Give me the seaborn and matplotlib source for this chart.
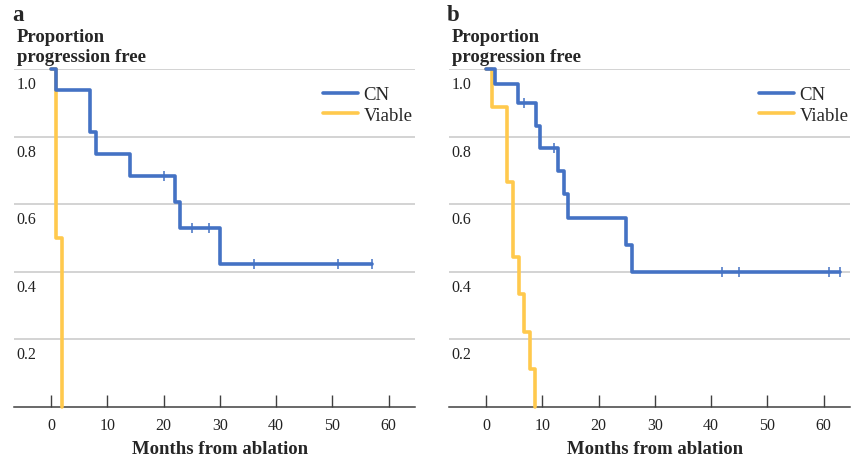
import numpy as np
import pandas as pd
import matplotlib
matplotlib.use("Agg")
import matplotlib.pyplot as plt
import matplotlib.transforms as mtransforms
from matplotlib.lines import Line2D
import seaborn as sns

# ---- data ----
# Panel a
cn_a_time = [0, 0.8, 7, 8, 14, 22, 23, 30, 57]
cn_a_surv = [1.0, 0.938, 0.815, 0.75, 0.683, 0.607, 0.53, 0.424, 0.424]
cn_a_censor = [20, 25, 28, 36, 51, 57]
viable_a_time = [0, 0.85, 2.0]
viable_a_surv = [1.0, 0.5, 0.0]

# Panel b
cn_b_time = [0, 1.5, 5.75, 8.8, 9.6, 12.85, 13.9, 14.6, 24.85, 25.9, 63]
cn_b_surv = [1.0, 0.955, 0.898, 0.832, 0.765, 0.697, 0.63, 0.558, 0.479, 0.398, 0.398]
cn_b_censor = [6.75, 12, 42, 45, 61, 63]
viable_b_time = [0, 1.0, 3.7, 4.8, 5.8, 6.75, 7.75, 8.75]
viable_b_surv = [1.0, 0.889, 0.667, 0.444, 0.333, 0.222, 0.111, 0.0]

panel_letters = ["a", "b"]
group_names = ["CN", "Viable"]
x_ticks = [0, 10, 20, 30, 40, 50, 60]
y_ticks = [0.2, 0.4, 0.6, 0.8, 1.0]
y_title = "Proportion\nprogression free"
x_title = "Months from ablation"

BLUE = "#4472C4"
YELLOW = "#FFC94D"

sns.set_theme(style="white")
plt.rcParams["font.family"] = ["Liberation Serif", "DejaVu Serif"]

W, H = 853, 464
fig = plt.figure(figsize=(W / 100, H / 100), dpi=100)


def step_value(times, surv, t):
    idx = np.searchsorted(np.asarray(times), t, side="right") - 1
    return surv[idx]


def draw_panel(left_px, cn_t, cn_s, cn_c, v_t, v_s, letter, legend_x_px):
    ax = fig.add_axes([left_px / W, 56 / H, 401 / W, 338 / H])
    ax.set_xlim(-6.6, 64.7)
    ax.set_ylim(0, 1.0)

    vdf = pd.DataFrame({"t": v_t, "s": v_s})
    cdf = pd.DataFrame({"t": cn_t, "s": cn_s})
    sns.lineplot(data=vdf, x="t", y="s", ax=ax, color=YELLOW, lw=2.6,
                 drawstyle="steps-post", estimator=None, sort=False,
                 zorder=3, clip_on=False)
    sns.lineplot(data=cdf, x="t", y="s", ax=ax, color=BLUE, lw=2.6,
                 drawstyle="steps-post", estimator=None, sort=False,
                 zorder=4, clip_on=False)
    cens = pd.DataFrame({"t": cn_c, "s": [step_value(cn_t, cn_s, c) for c in cn_c]})
    sns.scatterplot(data=cens, x="t", y="s", ax=ax, marker="|", s=55,
                    color=BLUE, linewidth=1.1, zorder=5, clip_on=False)

    # grid / spines
    ax.set_yticks(y_ticks)
    ax.yaxis.grid(True, color="#C8C8C8", lw=1.1)
    ax.xaxis.grid(False)
    ax.set_axisbelow(True)
    for s in ["top", "right", "left"]:
        ax.spines[s].set_visible(False)
    ax.spines["bottom"].set_color("#404040")
    ax.spines["bottom"].set_linewidth(1.1)

    ax.set_xticks(x_ticks)
    ax.set_xticklabels([str(v) for v in x_ticks])
    ax.tick_params(axis="x", direction="in", length=8.5, width=1.0,
                   color="#404040", labelsize=11.5, pad=7.5, labelcolor="#222222",
                   bottom=True)
    ax.set_yticklabels([f"{v:.1f}" for v in y_ticks])
    ax.tick_params(axis="y", length=0, labelsize=11.5, labelcolor="#222222", pad=-2)
    off = mtransforms.ScaledTranslation(0, -15 / 100, fig.dpi_scale_trans)
    for lab in ax.get_yticklabels():
        lab.set_ha("left")
        lab.set_va("center")
        lab.set_transform(lab.get_transform() + off)

    ax.set_xlabel(x_title, fontsize=13.5, fontweight="bold")
    ax.set_ylabel("")
    ax.xaxis.set_label_coords((30 + 6.6) / 71.3, -42 / 338)
    ax.xaxis.label.set_va("center")

    handles = [Line2D([], [], color=BLUE, lw=2.6), Line2D([], [], color=YELLOW, lw=2.6)]
    ax.legend(handles, group_names, loc="upper left", frameon=False,
              bbox_to_anchor=(legend_x_px / W, 1 - 87 / H),
              bbox_transform=fig.transFigure, borderpad=0, borderaxespad=0,
              handlelength=1.85, handletextpad=0.3, labelspacing=0.2,
              fontsize=13.5)

    fig.text((left_px - 2) / W, 1 - 5 / H, letter, fontsize=16.5,
             fontweight="bold", va="top", ha="left")
    fig.text((left_px + 3) / W, 1 - 29 / H, y_title, fontsize=13.5,
             fontweight="bold", va="top", ha="left", linespacing=1.2)
    return ax


draw_panel(14, cn_a_time, cn_a_surv, cn_a_censor, viable_a_time, viable_a_surv,
           panel_letters[0], 323)
draw_panel(449, cn_b_time, cn_b_surv, cn_b_censor, viable_b_time, viable_b_surv,
           panel_letters[1], 759)

fig.savefig("out.png", dpi=100)
